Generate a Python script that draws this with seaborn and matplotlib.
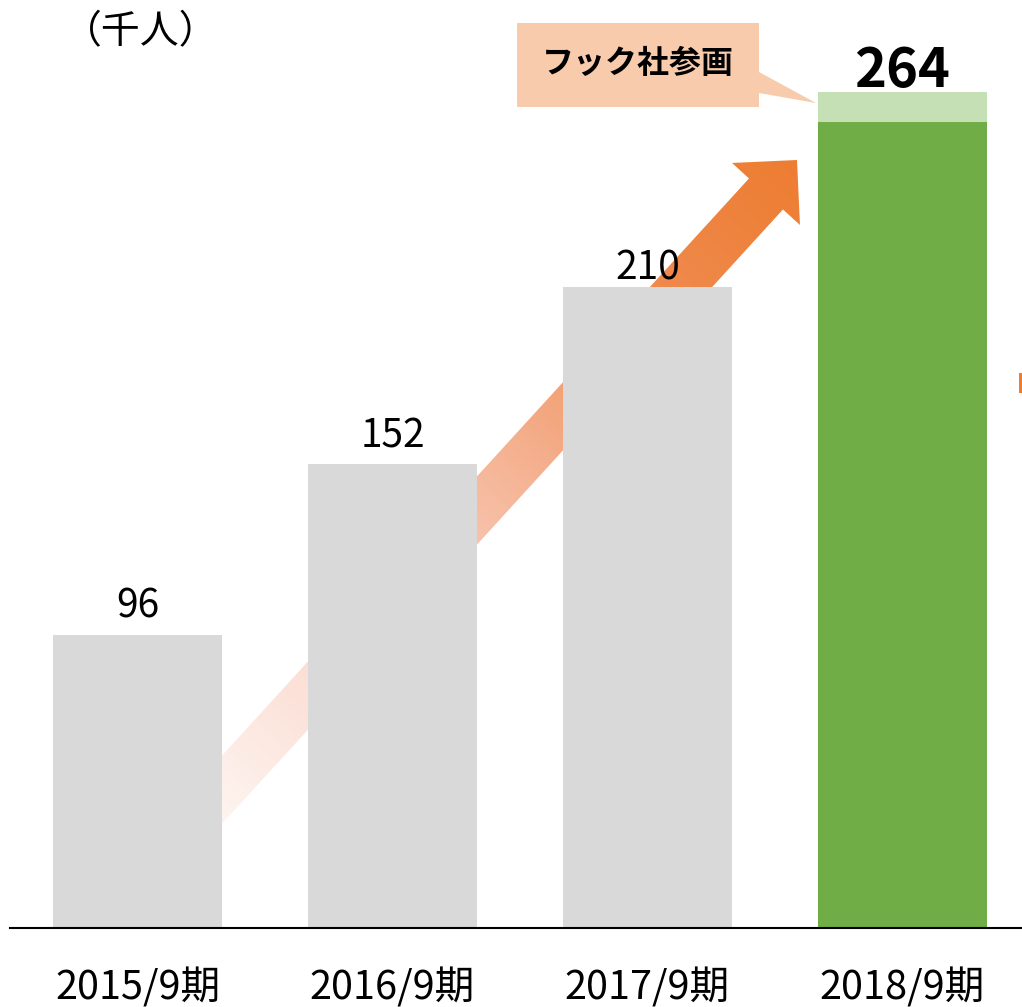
import numpy as np
import pandas as pd
import matplotlib.pyplot as plt
import matplotlib.colors as mcolors
import seaborn as sns
from matplotlib.patches import FancyArrow, Polygon, Rectangle

# chart data (千人)
periods = ["2015/9期", "2016/9期", "2017/9期", "2018/9期"]
members = [96, 152, 210, 264]
fuk_added = 10          # light green cap on the 2018 bar
callout_text = "フック社参画"
unit_text = "（千人）"

GRAY = "#D9D9D9"
GREEN = "#70AD47"
LIGHT_GREEN = "#C5E0B4"
ORANGE = "#ED7D31"
PINK = "#F4A485"
PEACH = "#F8CBAD"

sns.set_style("white")
plt.rcParams['font.family'] = ['Noto Sans CJK JP', 'DejaVu Sans']

W, H = 1022, 1007
fig = plt.figure(figsize=(W / 100, H / 100), dpi=100)

# background layer in pixel coords: gradient arrow behind the bars
bg = fig.add_axes([0, 0, 1, 1], zorder=0)
start = np.array([30.0, 1000.0])
tip = np.array([797.0, 160.0])
d = tip - start
arrow = FancyArrow(start[0], start[1], d[0], d[1], width=46, head_width=92,
                   head_length=46, length_includes_head=True, fc='none', ec='none')
bg.add_patch(arrow)
yy, xx = np.mgrid[0:H, 0:W] + 0.5
t = ((xx - start[0]) * d[0] + (yy - start[1]) * d[1]) / (d @ d)
t = np.clip(t, 0, 1)
alpha = np.clip((t - 0.15) / 0.65, 0, 1)
c0 = np.array(mcolors.to_rgb(PINK))
c1 = np.array(mcolors.to_rgb(ORANGE))
mix = np.clip((t - 0.5) / 0.5, 0, 1)[..., None]
rgba = np.zeros((H, W, 4))
rgba[..., :3] = c0 * (1 - mix) + c1 * mix
rgba[..., 3] = alpha
img = bg.imshow(rgba, extent=(0, W, H, 0), interpolation='bilinear', aspect='auto')
img.set_clip_path(arrow)
bg.set_xlim(0, W)
bg.set_ylim(H, 0)
bg.axis('off')

# main bar chart
ax = fig.add_axes([10 / W, 79 / H, 1 - 10 / W, 928 / H], zorder=1)
ax.patch.set_alpha(0)
df = pd.DataFrame({"period": periods, "members": members})
sns.barplot(data=df, x="period", y="members", hue="period",
            palette=[GRAY, GRAY, GRAY, GREEN], width=0.663, saturation=1,
            errorbar=None, legend=False, linewidth=0, edgecolor="none", ax=ax)
ax.bar(3, fuk_added, bottom=members[3], width=0.663, color=LIGHT_GREEN, linewidth=0)

ax.set_xlim(-0.5, 3.469)
ax.set_ylim(0, 304)
ax.set_xlabel("")
ax.set_ylabel("")
ax.set_yticks([])
for s in ["left", "top", "right"]:
    ax.spines[s].set_visible(False)
ax.spines["bottom"].set_color("black")
ax.spines["bottom"].set_linewidth(1.5)
ax.tick_params(axis="x", length=0, labelsize=28.5, pad=29, labelcolor="black")

# value labels
gaps_px = [17, 16, 7, 5]
for i, v in enumerate(members):
    top = v + (fuk_added if i == 3 else 0)
    last = i == len(members) - 1
    ax.annotate(str(v), (i, top), xytext=(0, gaps_px[i] * 0.72), textcoords="offset points",
                ha="center", va="baseline", fontsize=39 if last else 28,
                fontweight="bold" if last else "normal", color="black")

# overlay in pixel coords: callout, unit
ov = fig.add_axes([0, 0, 1, 1], zorder=3)
ov.set_xlim(0, W)
ov.set_ylim(H, 0)
ov.axis('off')
ov.patch.set_alpha(0)
ov.add_patch(Polygon([(517, 23), (759, 23), (759, 72), (816, 103), (759, 93),
                      (759, 107), (517, 107)], closed=True, fc=PEACH, ec='none'))
ov.text(638, 64, callout_text, ha="center", va="center", fontsize=23,
        fontweight="bold", color="black")
ov.text(141, 32, unit_text, ha="center", va="center", fontsize=28, color="black")
ov.add_patch(Rectangle((1019, 373), 3, 20, fc=ORANGE, ec='none'))

fig.savefig("out.png", dpi=100)
